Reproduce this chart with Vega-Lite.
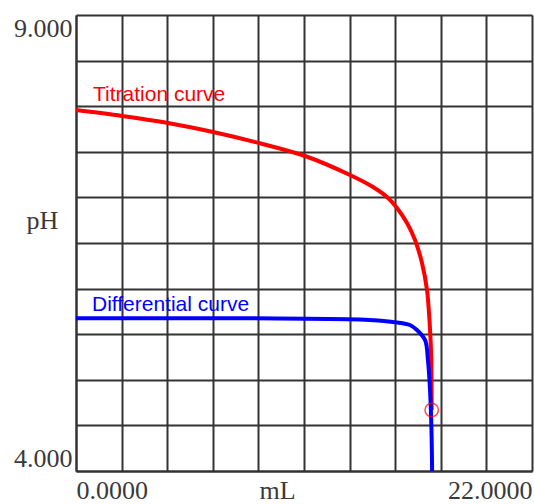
{
  "$schema": "https://vega.github.io/schema/vega-lite/v6.json",
  "width": 456,
  "height": 456,
  "autosize": {"type": "none"},
  "padding": {"left": 76, "top": 15, "right": 2, "bottom": 33},
  "background": "white",
  "datasets": {
    "curves": [
      {"curve": "Titration", "mL": 0, "pH": 7.958},
      {"curve": "Titration", "mL": 2.219, "pH": 7.893},
      {"curve": "Titration", "mL": 4.439, "pH": 7.816},
      {"curve": "Titration", "mL": 6.61, "pH": 7.717},
      {"curve": "Titration", "mL": 8.829, "pH": 7.596},
      {"curve": "Titration", "mL": 11.048, "pH": 7.454},
      {"curve": "Titration", "mL": 13.219, "pH": 7.246},
      {"curve": "Titration", "mL": 14.329, "pH": 7.114},
      {"curve": "Titration", "mL": 15.005, "pH": 7.004},
      {"curve": "Titration", "mL": 15.487, "pH": 6.884},
      {"curve": "Titration", "mL": 15.97, "pH": 6.719},
      {"curve": "Titration", "mL": 16.356, "pH": 6.533},
      {"curve": "Titration", "mL": 16.693, "pH": 6.281},
      {"curve": "Titration", "mL": 16.934, "pH": 5.985},
      {"curve": "Titration", "mL": 17.031, "pH": 5.732},
      {"curve": "Titration", "mL": 17.1, "pH": 5.469},
      {"curve": "Titration", "mL": 17.14, "pH": 5.217},
      {"curve": "Titration", "mL": 17.16, "pH": 4.669},
      {"curve": "Differential", "mL": 0, "pH": 5.674},
      {"curve": "Differential", "mL": 8.4, "pH": 5.674},
      {"curve": "Differential", "mL": 13.7, "pH": 5.661},
      {"curve": "Differential", "mL": 15.29, "pH": 5.634},
      {"curve": "Differential", "mL": 16.11, "pH": 5.601},
      {"curve": "Differential", "mL": 16.45, "pH": 5.546},
      {"curve": "Differential", "mL": 16.84, "pH": 5.436},
      {"curve": "Differential", "mL": 16.98, "pH": 5.217},
      {"curve": "Differential", "mL": 17.08, "pH": 4.888},
      {"curve": "Differential", "mL": 17.15, "pH": 4.45},
      {"curve": "Differential", "mL": 17.18, "pH": 4.0}
    ],
    "endpoint": [
      {"curve": "Titration", "mL": 17.16, "pH": 4.669}
    ],
    "labels": [
      {"curve": "Titration", "mL": 0.82, "pH": 8.057, "label": "Titration curve"},
      {"curve": "Differential", "mL": 0.77, "pH": 5.754, "label": "Differential curve"}
    ]
  },
  "encoding": {
    "x": {
      "field": "mL",
      "type": "quantitative",
      "scale": {"domain": [0, 22], "nice": false, "zero": false},
      "axis": {
        "values": [0, 2.2, 4.4, 6.6, 8.8, 11, 13.2, 15.4, 17.6, 19.8, 22],
        "labelExpr": "datum.value == 0 ? '0.0000' : (datum.value == 22 ? '22.0000' : '')",
        "labelFlush": true,
        "labelOverlap": false,
        "ticks": false,
        "tickSize": 0,
        "labelPadding": 6,
        "title": "mL",
        "titleX": 201,
        "titleY": 27,
        "titleAlign": "center",
        "titleBaseline": "alphabetic",
        "titleAnchor": null
      }
    },
    "y": {
      "field": "pH",
      "type": "quantitative",
      "scale": {"domain": [4, 9], "nice": false, "zero": false},
      "axis": {
        "values": [4, 4.5, 5, 5.5, 6, 6.5, 7, 7.5, 8, 8.5, 9],
        "labelExpr": "datum.value == 4 ? '4.000' : (datum.value == 9 ? '9.000' : '')",
        "labelFlush": true,
        "labelOverlap": false,
        "ticks": false,
        "tickSize": 0,
        "labelPadding": 4,
        "title": "pH",
        "titleAngle": 0,
        "titleX": -34,
        "titleY": 213,
        "titleAlign": "center",
        "titleBaseline": "alphabetic",
        "titleAnchor": null
      }
    },
    "color": {
      "field": "curve",
      "type": "nominal",
      "scale": {"domain": ["Titration", "Differential"], "range": ["#ff0000", "#0000ff"]},
      "legend": null
    }
  },
  "layer": [
    {
      "data": {"name": "curves"},
      "mark": {"type": "line", "strokeWidth": 4, "interpolate": "catmull-rom"},
      "encoding": {"order": {"value": null}}
    },
    {
      "data": {"name": "endpoint"},
      "mark": {"type": "point", "shape": "circle", "filled": false, "size": 180, "strokeWidth": 1.5, "opacity": 0.7}
    },
    {
      "data": {"name": "labels"},
      "mark": {"type": "text", "align": "left", "baseline": "alphabetic", "font": "Liberation Sans", "fontSize": 21},
      "encoding": {"text": {"field": "label", "type": "nominal"}}
    }
  ],
  "config": {
    "view": {"stroke": null},
    "axis": {
      "grid": true,
      "gridColor": "#333333",
      "gridWidth": 2,
      "gridOpacity": 1,
      "domainColor": "#333333",
      "domainWidth": 2,
      "labelFont": "Liberation Serif",
      "labelFontSize": 26,
      "labelColor": "#3a3a3a",
      "titleFont": "Liberation Serif",
      "titleFontSize": 26,
      "titleFontWeight": "normal",
      "titleColor": "#3a3a3a"
    }
  }
}
